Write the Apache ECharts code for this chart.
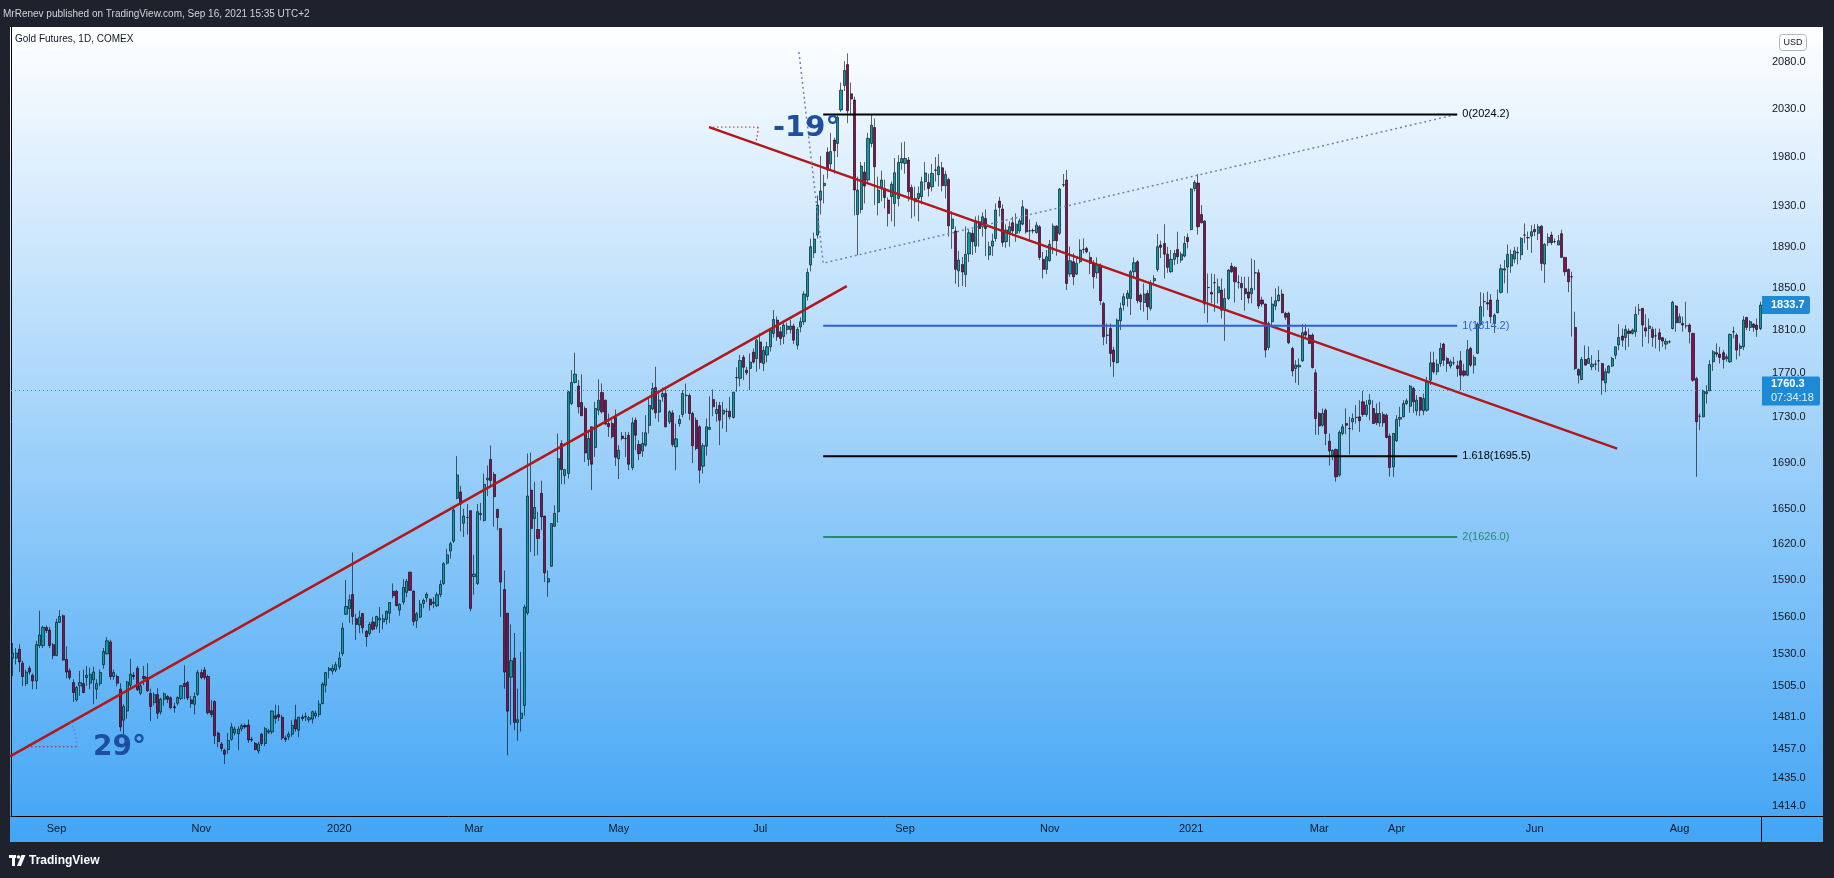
<!DOCTYPE html>
<html>
<head>
<meta charset="utf-8">
<title>Gold Futures, 1D, COMEX</title>
<script src="https://cdn.jsdelivr.net/npm/echarts@6/dist/echarts.min.js"></script>
<style>
  html, body { margin: 0; padding: 0; background: #1e222d; }
  #chart { width: 1834px; height: 878px; }
</style>
</head>
<body>
<div id="chart"></div>
<script>
// trading calendar (weekends + exchange holidays skipped)
const firstDay = '2019-08-14';
const lastDay = '2021-09-03';
const holidays = [
  '2019-09-02', '2019-11-28', '2019-12-25',
  '2020-01-01', '2020-01-20', '2020-02-17', '2020-04-10', '2020-05-25', '2020-07-03', '2020-09-07', '2020-11-26', '2020-12-25',
  '2021-01-01', '2021-01-18', '2021-02-15', '2021-04-02', '2021-05-31', '2021-07-05'
];

// month labels on the time axis
const monthTicks = [
  ['2019-09', 'Sep'], ['2019-11', 'Nov'], ['2020-01', '2020'], ['2020-03', 'Mar'], ['2020-05', 'May'],
  ['2020-07', 'Jul'], ['2020-09', 'Sep'], ['2020-11', 'Nov'], ['2021-01', '2021'], ['2021-03', 'Mar'],
  ['2021-04', 'Apr'], ['2021-06', 'Jun'], ['2021-08', 'Aug']
];

// price scale labels (log scale)
const priceTicks = [2080, 2030, 1980, 1930, 1890, 1850, 1810, 1770, 1730, 1690, 1650, 1620, 1590, 1560, 1530, 1505, 1481, 1457, 1435, 1414];

// daily bars: [open, close, low, high]
const bars2019 = [
  [1527,1531,1513,1539],[1527,1531,1522,1535],[1534,1524,1516,1538],[1523,1512.5,1505,1525],[1507,1516,1505,1518],
  [1519,1516,1514,1521],[1513.5,1509,1502.6,1515],[1509,1537.7,1502.6,1540.8],[1537,1545.5,1535,1565],[1537,1551.5,1535,1553],
  [1551.5,1549,1547,1553],[1549.4,1537,1535,1552],[1537.7,1529,1526,1539],[1529,1555.6,1528.6,1558.5],[1555.6,1560.3,1555,1565.5],
  [1561,1525.5,1525,1562],[1526,1516,1511,1536.4],[1517,1511.7,1510,1519],[1507.8,1500,1492.7,1510.4],[1494.3,1503.9,1493,1505],
  [1505.2,1507.8,1497.4,1516.9],[1507,1500,1499.5,1518],[1511.7,1513.5,1505.2,1520.8],[1507.3,1514.3,1502.6,1519.5],[1509.9,1516.1,1490.9,1520.3],
  [1502.6,1507,1494.8,1510.4],[1507,1515.6,1505,1518],[1521.8,1532.2,1518.7,1535],[1530.4,1540.8,1529.9,1543.7],[1539.8,1512.5,1509.9,1541.6],
  [1512.5,1515.6,1510,1518],[1512.5,1507.3,1505,1514],[1502.6,1473.5,1470.1,1507.3],[1478.7,1489.1,1464.9,1490.9],[1485.7,1508.3,1479.7,1509.1],
  [1505.7,1514.3,1502.6,1526.5],[1513.5,1512.5,1510,1516],[1519,1502.1,1501.3,1520.8],[1499.5,1505.2,1498,1507],[1512.5,1510.9,1505.7,1520.8],
  [1511.7,1501.3,1500.5,1522.9],[1499.2,1489.1,1477.9,1503.1],[1492.2,1498.4,1490,1500],[1498.4,1483.9,1479.7,1503.6],[1484.9,1494.8,1483,1496],
  [1494.8,1499,1489.6,1500],[1496.9,1494.8,1492,1498],[1496,1488.3,1487,1497],[1489,1488.3,1484.4,1492],[1491.7,1496.1,1490,1497],
  [1495.3,1505.2,1494,1506],[1507,1504.7,1494.8,1521.3],[1507.8,1495.8,1494,1509],[1494.3,1491.4,1488.3,1497.4],[1490.9,1496.9,1483.1,1500],
  [1498.7,1515.6,1497.4,1517.7],[1515.6,1511.7,1510.4,1518.2],[1517.7,1511.7,1510,1520],[1512.5,1484.4,1483,1514],[1486,1483,1481,1494],
  [1493,1466.7,1460.5,1494],[1468.8,1462.3,1458,1470],[1460.5,1457.1,1455,1462],[1455.8,1452.7,1445.4,1457],[1456.3,1463.1,1453.2,1468.8],
  [1464.1,1473.5,1463,1476.6],[1468.8,1471.9,1467,1474],[1468.3,1471.9,1455.8,1474],[1471.9,1474.5,1470,1476],[1474.5,1473.5,1472,1476],
  [1475,1463.6,1461.5,1479.2],[1464.1,1463.6,1462,1466],[1461,1456.3,1455.8,1462],[1455.3,1460.5,1453.2,1462.3],[1467.9,1460.9,1459,1469],
  [1460.9,1472.2,1459,1473.5],[1469.5,1470.5,1468,1472],[1469.7,1485.7,1468,1486],[1482,1480,1476,1490.6],[1483,1481,1478,1490],
  [1480.9,1465.1,1463.5,1482.7],[1465.1,1464,1462,1467],[1466,1468,1463.5,1470],[1468,1474.6,1466,1478.6],[1479,1472,1469.8,1490.6],
  [1471,1480.9,1465.6,1481.4],[1481,1480,1478,1483],[1481,1481.5,1478,1484.5],[1479,1480.5,1477,1482],[1479.5,1485.2,1476,1486],
  [1482,1484,1480,1486],[1483,1491,1481,1494],[1491.4,1506.6,1491,1508.1],[1505.7,1515.6,1500,1516.1],[1517.4,1518.8,1511,1520],
  [1516.8,1519,1514,1522],[1517.6,1521.8,1516,1524]
];

const bars2020a = [
  [1520,1527,1518,1532],[1530.6,1550.9,1528.6,1555.3],[1562.2,1568.4,1561.5,1590.2],[1566.7,1573.9,1555,1578.2],[1578.2,1560.3,1553.7,1613],
  [1558.5,1553.9,1541.5,1562.2],[1553.4,1559.8,1547,1565],[1562.8,1551.3,1546.8,1563],[1548.4,1544.1,1536,1549.2],[1546.7,1553.9,1545,1556],
  [1555.8,1550,1549,1560],[1552.5,1560.3,1550,1561],[1557.5,1559,1547,1568],[1556,1558.5,1550,1562],[1558,1564.6,1554,1565],
  [1563,1571.6,1555,1572],[1580.9,1577.2,1575,1587.3],[1580.9,1569,1569,1582],[1565.5,1570.3,1561,1571],[1572,1584,1570,1590.8],
  [1580,1589,1576,1591],[1596.6,1581.7,1581,1597],[1581,1556.3,1553,1581.5],[1557,1562.5,1551,1564],[1559.8,1570.3,1559,1573.7],
  [1570.8,1573.4,1567,1575],[1575.5,1578.5,1572,1580],[1574.4,1569.6,1565,1575],[1571,1572,1567,1576],[1569,1578,1568,1580],
  [1578.2,1586.4,1576,1590],[1587.3,1603.6,1586,1605],[1604,1611,1603,1616],[1614.3,1620.4,1608,1621.9],[1622.5,1648.8,1620.9,1651.6],
  [1658.9,1679.1,1658,1695.6],[1664.4,1653.9,1630.6,1669.6],[1637.6,1643.7,1626,1650],[1642.5,1642.5,1628,1654],[1648.3,1566.9,1564.4,1648.5],
  [1593,1595,1578,1611],[1587.3,1647.4,1586,1654],[1645,1646,1640,1655],[1640,1671,1639,1680.4],[1674.9,1676.3,1661,1687.4],
  [1692.7,1674.3,1670,1705],[1679.6,1660.3,1634.6,1681.5],[1649.4,1642.5,1631.7,1650],[1633.1,1588.4,1560,1633.2],[1582.3,1516,1503,1598],
  [1563,1485.6,1452,1563],[1512,1525,1475,1554],[1527,1477,1471,1547],[1477,1479,1463,1503],[1480,1484,1470,1532],
  [1490,1568,1482,1570],[1563.2,1660.9,1561.3,1697.9],[1666,1633.1,1613.5,1698.7],[1641.7,1651.1,1609.9,1673.2],[1632.3,1624.8,1610.7,1647.4],
  [1663.2,1643.1,1631.7,1674.1],[1643.7,1596,1588.5,1644],[1588.5,1591.2,1576.3,1598.2],[1601.5,1637.3,1601,1637.5],[1635,1646,1634.5,1653],
  [1647.4,1693.4,1638,1715.6],[1706.7,1683.9,1671.1,1709.7],[1678.6,1683.9,1671.1,1684],[1680.4,1753.1,1676,1754],[1742.5,1761.6,1741,1772.9],
  [1761.6,1769.2,1760.7,1789],[1758.3,1739.5,1733.5,1763.9],[1743.4,1731.4,1731.4,1769],[1738,1698.4,1690.4,1740],[1692.8,1711.2,1687,1718.6],
  [1721.6,1688.5,1666,1721.6],[1703.2,1738,1694.9,1744],[1736.5,1745.5,1732,1764.5],[1752.5,1735,1733.5,1760.7],[1745.5,1724,1723,1746],
  [1724.5,1721.6,1712.7,1733.5],[1724.5,1712.7,1711.2,1727.5],[1730,1694.6,1687,1737.1],[1693.4,1700.8,1675.6,1705.3],[1713.3,1711.2,1709.7,1717],
  [1711.2,1711,1694.9,1717],[1714,1688.5,1683.3,1717],[1685.6,1725.1,1683.3,1729.9],[1727.5,1714,1700.8,1729.9],[1705.8,1697.8,1692,1709.7],
  [1700.2,1706.7,1694.9,1717],[1705.3,1716.2,1704,1732],[1722.8,1740.7,1715.6,1747],[1737.7,1756.1,1736.5,1761.3],[1757,1734.1,1729,1776],
  [1734.7,1745.5,1726,1754.6],[1748.5,1751.5,1744,1757],[1751.5,1721.6,1721,1756],[1726,1735,1724,1736.5],[1734,1705.8,1703.8,1736.5],
  [1703.8,1710.9,1683.3,1724.5],[1724.5,1728.2,1721.6,1732],[1732.6,1751.5,1730,1754.6],[1750,1749.7,1733.5,1760.7],[1749.7,1733.5,1727.5,1751.5],
  [1733.5,1704.7,1689.5,1735],[1727.5,1702.3,1700.8,1730],[1721.6,1683.3,1671.7,1723],[1686.8,1704.8,1680.4,1707],[1704.4,1721.6,1696,1729],
  [1719.3,1721,1718.6,1749],[1746.2,1739.5,1731.1,1755.2],[1733.5,1737.1,1726,1744],[1740.7,1727.5,1705.3,1744],[1733,1736.5,1720,1744],
  [1735.3,1735.4,1717,1738],[1735.6,1730.5,1728.2,1748.5],[1729.9,1752.8,1729,1753],[1766,1766.2,1753.1,1775.5],[1765.4,1781.7,1758,1786.9],
  [1784.8,1775.5,1763.9,1786.9],[1772.9,1770.5,1768.4,1776],[1774.5,1780.3,1754.6,1788.3],[1789.5,1780.3,1779,1792.9],[1783.6,1800.7,1771.4,1802.3]
];

const bars2020b = [
  [1799,1780,1774,1807],[1779,1791,1772,1795],[1786.8,1794.5,1780,1799],[1794.5,1810.1,1790,1812],[1807,1820.1,1803,1829],
  [1819.5,1803.8,1800,1823],[1808.6,1802.3,1796,1813],[1804,1814.8,1797,1818],[1810.7,1813.9,1806,1817],[1810.7,1813.9,1807,1820],
  [1813.9,1800.7,1797,1816],[1796,1810.7,1792,1813],[1813,1818,1808,1822],[1818,1844.2,1815,1847],[1842,1865,1838,1869],
  [1872.2,1890.1,1866,1898],[1884.1,1897.6,1879,1904],[1901.5,1931.3,1898,1941],[1936.3,1945.4,1922,1981],[1950.8,1953.2,1933,1962],
  [1985,1966.7,1958,1990],[1972.9,1985.6,1966,2005],[1997.5,1986.5,1963,2000],[1994,2021.2,1980,2023],[2029,2049.9,2027,2058],
  [2054.7,2070.8,2049,2081],[2077.2,2028,2015,2089.3],[2046,2040.4,2023,2058],[2039.4,1946.5,1921,2043],[1921.9,1946.4,1881.8,1960],
  [1927,1970.8,1923,1975],[1964.7,1950.4,1933,1975],[1956.5,1999.2,1954,2005],[1994,2013,1990,2023.6],[2010.6,1970.1,1931.3,2020],
  [1933.7,1946.4,1921,1960],[1948,1956.5,1935,1966],[1948,1938.9,1928,1957],[1936.3,1923,1910,1939],[1939.7,1952.4,1915,1955],
  [1933,1964,1910,1979],[1938,1974.5,1930,1982],[1974,1978.6,1967,1995],[1973.5,1978.6,1963,1996],[1976.9,1944.6,1935,1980],
  [1949,1937.9,1918,1952],[1938,1934.6,1920,1950],[1938,1943,1915,1950],[1939.7,1954.8,1932,1960],[1954.8,1963.8,1946,1975],
  [1954,1948,1940,1963],[1949.7,1963.3,1945,1973],[1966.5,1966.8,1955,1980],[1962,1970.1,1950,1983],[1969,1950.8,1945,1975],
  [1950.8,1962.2,1938,1966],[1957.1,1910.7,1900,1959],[1908,1917.3,1888,1925],[1905.4,1868,1854,1910],[1866.6,1877,1851,1886],
  [1872.8,1865.5,1852,1880],[1863,1882.6,1851,1910],[1883,1903.8,1875,1907],[1903.2,1895,1882,1907],[1890.7,1915.6,1884,1920],
  [1914.7,1908,1890,1921],[1909.7,1919.6,1900,1924],[1918,1908,1880.9,1927],[1882,1890,1877,1895],[1890.7,1895.6,1881,1903],
  [1898.2,1926.3,1895,1933],[1935.3,1928.8,1920,1939.5],[1927.3,1894.3,1890,1932],[1895,1906.5,1889,1912],[1903.2,1909.7,1890,1915],
  [1913.6,1905.7,1903,1919.6],[1903.2,1912.3,1895,1923],[1905.7,1915.6,1903,1918],[1912.3,1929.6,1911,1936.3],[1927,1904.7,1903,1928],
  [1905.5,1905.7,1895,1917],[1906,1905.7,1903,1908],[1903.9,1911.3,1903,1914.6],[1909.7,1879.6,1877,1911.3],[1877.7,1868,1859.2,1885],
  [1868,1880.2,1863.4,1886.8],[1876.4,1892.4,1875.4,1896.6],[1896,1910.3,1883,1913],[1910.3,1896,1881.3,1911.3],[1903.2,1947.4,1901.5,1948.4],
  [1951.5,1951.8,1949.4,1962.6],[1956.5,1854.4,1848,1966.7],[1863.4,1876.4,1860.8,1890.2],[1875.4,1860.8,1852.8,1883.5],[1863.4,1873.8,1862.4,1880.2],
  [1875.4,1886.8,1873.8,1897.3],[1887.4,1887.5,1883.5,1898.3],[1888.4,1885.1,1883.5,1890],[1879.6,1873.8,1863.4,1885],[1873.1,1860.8,1849.4,1877],
  [1864.7,1872.1,1859.2,1879.6],[1872.1,1837.9,1833.8,1873.8],[1835.3,1803.8,1796,1836.9],[1805.2,1805.4,1797,1816.3],[1811.6,1788.3,1776,1816.3],
  [1791.4,1780.6,1766.8,1794.5],[1779.9,1819.5,1779,1821],[1818.9,1830.6,1810.1,1836],[1833.8,1841.7,1828.4,1845],[1840.1,1844.9,1832.2,1848],
  [1840.1,1865.7,1824.3,1867.3],[1865.7,1874.4,1859.2,1879.6],[1875.4,1837.9,1835.3,1877],[1843.3,1836.9,1829,1844.9],[1836.2,1844.2,1827.4,1854.4],
  [1844.9,1832.2,1819.5,1848],[1830.6,1855,1828.4,1857.6],[1857,1859.2,1854,1862.4],[1867.9,1890,1865.7,1902.5],[1891.7,1889.5,1879,1896],
  [1893.3,1882.8,1859.2,1912.3],[1882.8,1869.9,1864.7,1890],[1865.7,1877.7,1864.7,1886.8],[1877.7,1883.5,1872.1,1886.8],[1887.4,1880.2,1873.1,1904.8],
  [1877,1882.8,1874.4,1885.1],[1880.9,1893.3,1879.6,1900.5],[1899.2,1895,1888.4,1903.2]
];

const bars2021 = [
  [1907,1947.4,1906,1948.4],[1948,1954.2,1945,1956.5],[1953.5,1909.7,1901.9,1962.6],[1921.9,1913.6,1913,1931.3],[1915.3,1834.7,1825.9,1916.3],
  [1850.4,1850.6,1817,1864],[1845.8,1844.2,1835.3,1864],[1855,1855.2,1827.4,1863.4],[1845.5,1851.2,1835.3,1859.2],[1848,1828.9,1821,1859.2],
  [1828.9,1840.1,1800,1849.7],[1840.1,1867.3,1838.5,1868],[1871.2,1865.7,1864.7,1874.4],[1869.9,1856,1836.2,1871.2],[1855.2,1855.4,1849.4,1862.4],
  [1854.4,1850.2,1838.5,1860.8],[1849.4,1844.5,1828.4,1860.8],[1846.2,1840.4,1835.3,1860.8],[1844.5,1849.7,1835.3,1878.6],[1864.7,1864.5,1848,1877],
  [1864.7,1832.8,1830,1868],[1838.5,1834.7,1832.2,1841.7],[1834.7,1791.4,1784.6,1835.3],[1793.9,1816.4,1791.4,1818],[1818,1834.7,1813.3,1841.7],
  [1832.8,1837.9,1828.9,1849.7],[1837.9,1843.3,1837,1851.8],[1844.2,1826.5,1825.9,1848.6],[1825.9,1822.1,1819.5,1827.4],[1825.9,1798.2,1797,1827.4],
  [1792.9,1772.2,1767.3,1794.5],[1774.4,1777.5,1761.2,1782.1],[1775.9,1777.5,1759.2,1783.7],[1781.5,1807.6,1780.5,1815.7],[1808.5,1805.4,1802.3,1815.7],
  [1805.4,1797.6,1797,1811.6],[1805.4,1775.3,1774.4,1807],[1770.4,1729,1714.4,1773.5],[1733.5,1722.2,1714.4,1735],[1723,1733.5,1721.6,1738],
  [1736.5,1715.6,1705.3,1738],[1708.8,1700.2,1687.4,1715.6],[1696.4,1700.8,1692,1701.4],[1701.4,1677.5,1673.2,1702.3],[1679,1716.5,1677.5,1718.6],
  [1715.6,1721.6,1714,1724],[1724.5,1723,1715,1738],[1720.1,1720,1697,1730.5],[1726,1729,1718.6,1733.5],[1730,1729.9,1724.5,1741.1],
  [1730.5,1727,1717,1745.5],[1744,1732.6,1730.5,1754],[1732.6,1741,1730.5,1745.5],[1741.9,1745.5,1727.5,1751],[1738,1724.5,1724,1745.5],
  [1733.5,1725.1,1723,1742.5],[1725.1,1733.5,1721.6,1744],[1732.6,1725.1,1721.6,1735],[1732,1712.1,1711.2,1733.5],[1713.3,1685.6,1677.5,1715.6],
  [1686.2,1715.6,1677.5,1716.2],[1709.1,1728.2,1708.2,1732],[1728.4,1729.9,1721.6,1739.5],[1730.5,1742.5,1730,1745.5],[1742.5,1744.9,1741,1747],
  [1740,1758.3,1734.1,1759.2],[1756.1,1744,1734.1,1757.7],[1735.9,1745.5,1731.7,1750],[1747.9,1736.5,1731.1,1748.5],[1735.9,1747,1732,1751.5],
  [1736.5,1762.1,1735,1766.8],[1763.7,1779.6,1759.2,1789.9],[1779.6,1771.4,1769.8,1789.9],[1771.4,1778.4,1768.3,1782.7],[1779,1793,1776,1798.2],
  [1797,1782.1,1776.6,1798.2],[1783.6,1779,1771.4,1785.2],[1776.6,1780.6,1774.4,1782.7],[1779.7,1779.6,1777.5,1785.2],[1776.9,1774.4,1766.8,1781.5],
  [1781.5,1768.3,1754.6,1790.5],[1772.2,1768.3,1766.8,1778.7],[1768.3,1791.8,1767.3,1800.7],[1792.9,1777.5,1776,1794.5],[1777.5,1784.6,1769.8,1786.7],
  [1788.6,1815.7,1787.7,1817.3],[1815.7,1832.2,1814.1,1846],[1836.9,1837,1822.7,1845.1],[1836,1834.7,1829,1846.6],[1838.5,1822.7,1816.4,1844.2],
  [1816.4,1824.3,1807.3,1825.9],[1826.5,1838.5,1825.9,1848.6],[1845.9,1868.6,1844.6,1872.8],[1867.3,1868.6,1854.4,1877],[1870.2,1882.5,1845,1892.3],
  [1871.2,1882.5,1864.7,1887.3],[1878,1886,1874,1890],[1884,1884.4,1872.8,1889.9],[1882.2,1898.3,1877,1899.3],[1901.5,1901.6,1893.4,1913],
  [1899,1898.9,1887,1905],[1900.5,1904.8,1884,1911.3],[1907,1904.8,1900.5,1912.3],[1903.2,1909.7,1896.6,1912.3],[1910.3,1873.8,1866.7,1911.3],
  [1873.1,1892.4,1855,1893.4],[1894,1899.2,1890.8,1903.2],[1901.5,1894,1891.7,1904.8],[1895,1895.1,1893.4,1898.2],[1891.7,1895.9,1891.7,1901.5],
  [1902.9,1879.6,1879.6,1906.7],[1879.6,1865.7,1861.8,1880.2],[1867.9,1856,1846,1868.9],[1860.8,1860.7,1804,1865.7],[1812.6,1774.4,1772.9,1827.4],
  [1773.5,1768.3,1760.6,1774.4],[1764.3,1782.7,1763.7,1785.2],[1782.7,1777.5,1777.5,1795.8],[1779,1783.6,1779,1794.8],[1776,1778.4,1772.9,1786.7],
  [1778.5,1778.4,1772.9,1782.1],[1781.5,1781.4,1771.4,1791.4],[1779,1763.7,1750.4,1779.6],[1761.3,1771.4,1752.8,1774.4],[1770.5,1776.6,1769.8,1777.5],
  [1776.6,1783.6,1775.9,1785.2],[1786.7,1794.5,1783,1794.5],[1796.2,1803.2,1791.4,1815.7],[1804.5,1800.7,1794.5,1811.6],[1803.2,1810.7,1791.4,1814.8],
  [1809.2,1807,1794.5,1811.6],[1807,1810.1,1806,1811.6],[1808.5,1824.9,1803.8,1832.2],[1829,1829.1,1824.3,1834.7],[1830.6,1814.8,1794.5,1830.6],
  [1812.3,1809.2,1803.8,1825.1],[1811.6,1813.9,1797.6,1820.9],[1810.7,1803.2,1794.5,1813.3],[1804.8,1804.7,1792.9,1811.6],[1807.6,1801.4,1790.2,1811.6],
  [1802.9,1799.8,1794.5,1803.8],[1797,1799.5,1792.1,1802.3],[1799.2,1799.1,1797.6,1800.7],[1811.6,1836.3,1810.7,1837.9],[1832.8,1817,1808.5,1833.8],
  [1817,1822.7,1817,1825.9],[1816.4,1814.8,1808.5,1822.7],[1814.2,1814.1,1811.6,1836.9],[1814.8,1808.5,1797.6,1816.4],[1807,1763.7,1762.2,1807.6],
  [1765.2,1726,1677.5,1766.8],[1731.1,1731,1718.6,1733.5],[1730.5,1753.7,1730,1755.2],[1751.5,1753.1,1742.5,1759.2],[1754,1778,1754,1782.1],
  [1780.6,1789.9,1772.2,1791.4],[1789,1787.7,1785.2,1797.6],[1787.7,1784.6,1779,1794.5],[1789,1782.7,1774.4,1791.4],[1783.3,1785.2,1780.6,1787.7],
  [1780.6,1806,1779.6,1807],[1808.5,1808.4,1802.3,1813.3],[1805.4,1791.4,1782.7,1807],[1793,1795.2,1785.8,1797.6],[1794.5,1819.5,1791.4,1823.3],
  [1822,1812.6,1810.1,1822.7],[1812.6,1818,1809.2,1819.5],[1815.8,1812.6,1808.5,1816.4],[1814.8,1810.7,1803.8,1821],[1811.6,1833.7,1810,1836.9]
];

// drawings: [bar position, price]
const upTrend = [[-0.3, 1451.2], [248.2, 1851.8]];
const downTrend = [[207.3, 2011.0], [477.0, 1702.2]];
const fibPath = [[234.0, 2090.8], [241.2, 1874.0], [429.2, 2024.2]];
const fibRange = [241.2, 429.5];
const fibLevels = [
  { text: '0(2024.2)', price: 2024.2, color: '#000000' },
  { text: '1(1814.2)', price: 1814.2, color: '#2f5fd0' },
  { text: '1.618(1695.5)', price: 1695.5, color: '#000000' },
  { text: '2(1626.0)', price: 1626.0, color: '#2a8a6e' }
];
const angle29Origin = [4.75, 1458.4];
const lastClose = 1833.7;
const livePrice = 1760.3;

function tradingDays(start, end, skip) {
  const out = [];
  const d = new Date(start + 'T00:00:00Z');
  const e = new Date(end + 'T00:00:00Z');
  while (d <= e) {
    const wd = d.getUTCDay();
    const s = d.toISOString().slice(0, 10);
    if (wd !== 0 && wd !== 6 && skip.indexOf(s) < 0) out.push(s);
    d.setUTCDate(d.getUTCDate() + 1);
  }
  return out;
}

const dates = tradingDays(firstDay, lastDay, holidays);
const labelMap = {};
monthTicks.forEach(function (t) {
  const first = dates.find(function (d) { return d.indexOf(t[0]) === 0; });
  if (first) labelMap[first] = t[1];
});

const candles = [].concat(bars2019, bars2020a, bars2020b, bars2021).map(function (b) {
  const o = b[0], c = b[1];
  return [o, c, Math.min(b[2], o, c), Math.max(b[3], o, c)].map(Math.log);
});

const LN = function (pts) { return pts.map(function (p) { return [p[0], Math.log(p[1])]; }); };
const font = 'Liberation Sans';

const chart = echarts.init(document.getElementById('chart'));

const series = [
  {
    type: 'candlestick',
    xAxisIndex: 0,
    data: candles,
    barWidth: 2.6,
    itemStyle: {
      color: '#0a9cab',
      color0: '#8a0f52',
      borderColor: '#000000',
      borderColor0: '#000000',
      borderWidth: 0.6
    },
    markLine: {
      silent: true,
      symbol: ['none', 'none'],
      label: { show: false },
      lineStyle: { color: '#1e88e5', type: [1, 3], width: 1 },
      data: [{ yAxis: Math.log(livePrice) }]
    }
  },
  {
    type: 'line', xAxisIndex: 1, data: LN(upTrend), symbol: 'none', silent: true,
    lineStyle: { color: '#b0181b', width: 2.5 }
  },
  {
    type: 'line', xAxisIndex: 1, data: LN(downTrend), symbol: 'none', silent: true,
    lineStyle: { color: '#b0181b', width: 2.5 }
  },
  {
    type: 'line', xAxisIndex: 1, data: LN(fibPath), symbol: 'none', silent: true,
    lineStyle: { color: '#7282b0', width: 1.5, type: [2, 3] }
  }
];

fibLevels.forEach(function (f) {
  series.push({
    type: 'line', xAxisIndex: 1, symbol: 'none', silent: true,
    data: [[fibRange[0], Math.log(f.price)], [fibRange[1], Math.log(f.price)]],
    lineStyle: { color: f.color, width: 2 },
    endLabel: { show: true, formatter: f.text, color: f.color, fontSize: 11, fontFamily: font, distance: 5 }
  });
});

chart.setOption({
  backgroundColor: '#1e222d',
  animation: false,
  grid: { left: 11, right: 72, top: 27, bottom: 62 },
  xAxis: [
    {
      type: 'category',
      data: dates,
      boundaryGap: true,
      axisLine: { show: true, onZero: false, lineStyle: { color: '#000000', width: 1 } },
      axisTick: { show: false },
      splitLine: { show: false },
      axisLabel: {
        interval: function (i, v) { return labelMap[v] !== undefined; },
        formatter: function (v) { return labelMap[v] || ''; },
        color: '#131722', fontSize: 11, fontFamily: font, margin: 7
      }
    },
    { type: 'value', min: 0, max: dates.length, show: false }
  ],
  yAxis: {
    type: 'value',
    position: 'right',
    min: Math.log(1407.0),
    max: Math.log(2118.1),
    axisLine: { show: true, lineStyle: { color: '#000000', width: 1 } },
    axisTick: { show: false },
    splitLine: { show: false },
    axisLabel: {
      customValues: priceTicks.map(Math.log),
      formatter: function (v) { return Math.exp(v).toFixed(1); },
      color: '#131722', fontSize: 11, fontFamily: font, margin: 10
    }
  },
  series: series
});

// annotations positioned through the chart's own scales
const toPx = function (u, p) { return chart.convertToPixel({ xAxisIndex: 1, yAxisIndex: 0 }, [u, Math.log(p)]); };
const yPx = function (p) { return chart.convertToPixel({ yAxisIndex: 0 }, Math.log(p)); };

const a29 = toPx(angle29Origin[0], angle29Origin[1]);
const a19 = toPx(downTrend[0][0], downTrend[0][1]);
const yLast = yPx(lastClose);
const yLive = yPx(livePrice);
const deg = Math.PI / 180;
const dots = [1.5, 2.5];

const graphics = [
  {
    type: 'rect', z: -10, silent: true,
    shape: { x: 10, y: 27, width: 1813, height: 815 },
    style: {
      fill: new echarts.graphic.LinearGradient(0, 0, 0, 1, [
        { offset: 0, color: '#ffffff' }, { offset: 1, color: '#42a5f5' }
      ])
    }
  },
  { type: 'text', x: 3, y: 14, silent: true,
    style: { text: 'MrRenev published on TradingView.com, Sep 16, 2021 15:35 UTC+2', fill: '#d1d4dc', font: '10px "Liberation Sans"', verticalAlign: 'middle' } },
  { type: 'text', x: 15, y: 39, silent: true,
    style: { text: 'Gold Futures, 1D, COMEX', fill: '#131722', font: '10px "Liberation Sans"', verticalAlign: 'middle' } },
  { type: 'rect', silent: true, shape: { x: 1779.5, y: 34.5, width: 27, height: 16, r: 3 },
    style: { fill: 'rgba(255,255,255,0.4)', stroke: '#b2b5be', lineWidth: 1 } },
  { type: 'text', x: 1793, y: 42.5, silent: true,
    style: { text: 'USD', fill: '#131722', font: '9px "Liberation Sans"', align: 'center', verticalAlign: 'middle' } },
  { type: 'line', silent: true, shape: { x1: 1762, y1: 816.5, x2: 1823, y2: 816.5 }, style: { stroke: '#000000', lineWidth: 1 } },
  { type: 'line', silent: true, shape: { x1: 1761.5, y1: 816, x2: 1761.5, y2: 842 }, style: { stroke: '#000000', lineWidth: 1 } },
  // angle 29°
  { type: 'line', silent: true, z: 10, shape: { x1: a29[0], y1: a29[1], x2: a29[0] + 50, y2: a29[1] },
    style: { stroke: '#b0181b', lineWidth: 1, lineDash: dots } },
  { type: 'arc', silent: true, z: 10, shape: { cx: a29[0], cy: a29[1], r: 50, startAngle: -29.4 * deg, endAngle: 0, clockwise: true },
    style: { stroke: '#6f82b8', fill: null, lineWidth: 1.2, lineDash: dots } },
  { type: 'text', silent: true, z: 10, x: a29[0] + 66, y: a29[1] + 1,
    style: { text: '29°', fill: '#1d4f9e', font: 'bold 28px "DejaVu Sans"', verticalAlign: 'middle' } },
  // angle -19°
  { type: 'line', silent: true, z: 10, shape: { x1: a19[0], y1: a19[1], x2: a19[0] + 49, y2: a19[1] },
    style: { stroke: '#c62828', lineWidth: 1, lineDash: dots } },
  { type: 'arc', silent: true, z: 10, shape: { cx: a19[0], cy: a19[1], r: 49, startAngle: 0, endAngle: 19.6 * deg, clockwise: true },
    style: { stroke: '#c62828', fill: null, lineWidth: 1.2, lineDash: dots } },
  { type: 'text', silent: true, z: 10, x: a19[0] + 64, y: a19[1] + 1,
    style: { text: '-19°', fill: '#1d4f9e', font: 'bold 29px "DejaVu Sans"', verticalAlign: 'middle' } },
  // price tags
  { type: 'rect', silent: true, z: 20, shape: { x: 1762, y: yLast - 9, width: 48, height: 18, r: [0, 2, 2, 0] }, style: { fill: '#1e8ad6' } },
  { type: 'text', silent: true, z: 21, x: 1771, y: yLast,
    style: { text: lastClose.toFixed(1), fill: '#ffffff', font: 'bold 11px "Liberation Sans"', verticalAlign: 'middle' } },
  { type: 'rect', silent: true, z: 20, shape: { x: 1762, y: yLive - 7.5, width: 58, height: 29, r: [0, 2, 2, 0] }, style: { fill: '#1e8ad6' } },
  { type: 'text', silent: true, z: 21, x: 1771, y: yLive + 0.5,
    style: { text: livePrice.toFixed(1), fill: '#ffffff', font: 'bold 11px "Liberation Sans"', verticalAlign: 'middle' } },
  { type: 'text', silent: true, z: 21, x: 1771, y: yLive + 14,
    style: { text: '07:34:18', fill: '#e3f0fb', font: '11px "Liberation Sans"', verticalAlign: 'middle' } },
  // footer logo
  { type: 'rect', silent: true, shape: { x: 9, y: 855, width: 7, height: 3 }, style: { fill: '#ffffff' } },
  { type: 'rect', silent: true, shape: { x: 12, y: 855, width: 3, height: 11 }, style: { fill: '#ffffff' } },
  { type: 'circle', silent: true, shape: { cx: 18.5, cy: 857, r: 1.8 }, style: { fill: '#ffffff' } },
  { type: 'polygon', silent: true, shape: { points: [[21.5, 855], [25.5, 855], [21, 866], [17, 866]] }, style: { fill: '#ffffff' } },
  { type: 'text', silent: true, x: 29, y: 861,
    style: { text: 'TradingView', fill: '#ffffff', font: '600 12px "Liberation Sans"', verticalAlign: 'middle' } }
];

if (candles.length !== dates.length) {
  graphics.push({ type: 'text', x: 400, y: 14, style: { text: 'COUNT MISMATCH ' + candles.length + ' / ' + dates.length, fill: '#ff4040', font: 'bold 12px sans-serif', verticalAlign: 'middle' } });
}

chart.setOption({ graphic: graphics });
</script>
</body>
</html>
